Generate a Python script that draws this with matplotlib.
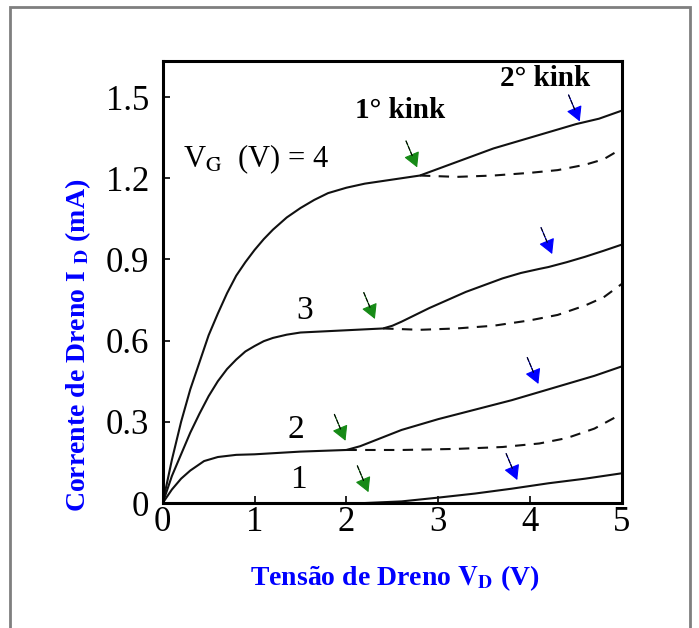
import matplotlib.pyplot as plt
from matplotlib.patches import Rectangle

plt.rcParams['font.family'] = ['Liberation Serif', 'DejaVu Serif']
plt.rcParams['mathtext.fontset'] = 'stix'

# curvas medidas (VD em V, ID em mA)
vd_4 = [0, 0.1, 0.2, 0.3, 0.4, 0.5, 0.6, 0.7, 0.8, 0.9, 1.0, 1.1, 1.2, 1.35, 1.5, 1.65, 1.8, 2.0, 2.2,
        2.4, 2.6, 2.8, 3.2, 3.6, 3.9, 4.2, 4.5, 4.75, 5.0]
id_4 = [0, 0.16, 0.30, 0.42, 0.52, 0.62, 0.70, 0.775, 0.84, 0.89, 0.935, 0.975, 1.01, 1.055, 1.09, 1.12,
        1.145, 1.165, 1.18, 1.19, 1.20, 1.21, 1.26, 1.31, 1.34, 1.37, 1.40, 1.42, 1.45]
vd_3 = [0, 0.1, 0.2, 0.3, 0.4, 0.5, 0.6, 0.7, 0.8, 0.9, 1.0, 1.1, 1.2, 1.35, 1.5, 1.8, 2.1, 2.4, 2.5,
        2.6, 2.75, 2.9, 3.1, 3.3, 3.5, 3.7, 3.9, 4.1, 4.2, 4.4, 4.6, 4.8, 5.0]
id_3 = [0, 0.10, 0.18, 0.26, 0.33, 0.395, 0.45, 0.495, 0.53, 0.56, 0.58, 0.598, 0.61, 0.622, 0.63, 0.635,
        0.64, 0.645, 0.655, 0.67, 0.695, 0.72, 0.75, 0.78, 0.805, 0.83, 0.85, 0.865, 0.872, 0.89, 0.91,
        0.932, 0.955]
vd_2 = [0, 0.1, 0.2, 0.3, 0.45, 0.6, 0.8, 1.0, 1.5, 2.0, 2.15, 2.3, 2.45, 2.6, 2.8, 3.0, 3.4, 3.8, 4.1,
        4.4, 4.7, 5.0]
id_2 = [0, 0.05, 0.09, 0.12, 0.155, 0.17, 0.178, 0.18, 0.19, 0.196, 0.21, 0.23, 0.25, 0.27, 0.29, 0.31,
        0.345, 0.38, 0.41, 0.44, 0.47, 0.505]
vd_1 = [0, 2.2, 2.6, 3.0, 3.4, 3.8, 4.2, 4.6, 5.0]
id_1 = [0, 0, 0.006, 0.02, 0.035, 0.053, 0.073, 0.09, 0.11]

# sem kink (tracejado)
vd_4s = [2.8, 3.2, 3.6, 4.0, 4.3, 4.6, 4.8, 5.0]
id_4s = [1.21, 1.205, 1.21, 1.22, 1.23, 1.25, 1.27, 1.31]
vd_3s = [2.4, 2.8, 3.2, 3.6, 4.0, 4.3, 4.6, 4.8, 5.0]
id_3s = [0.645, 0.64, 0.645, 0.655, 0.675, 0.695, 0.73, 0.76, 0.81]
vd_2s = [2.0, 2.6, 3.2, 3.7, 4.1, 4.4, 4.7, 5.0]
id_2s = [0.196, 0.196, 0.20, 0.207, 0.22, 0.24, 0.275, 0.33]

# pontos de kink (ponta da seta)
kink1_v = [2.77, 2.31, 1.99, 2.24]
kink1_i = [1.24, 0.68, 0.23, 0.04]
kink2_v = [4.54, 4.24, 4.09, 3.86]
kink2_i = [1.41, 0.92, 0.44, 0.085]

fig = plt.figure(figsize=(6.99, 6.28), dpi=100)
fig.patches.append(Rectangle((10 / 699, -0.05), 680 / 699, 1.05 - 7 / 628,
                             transform=fig.transFigure, fill=False,
                             edgecolor='#7f7f7f', lw=2))
ax = fig.add_axes([0.2328, 0.199, 0.657, 0.7038])

for v, i in [(vd_4, id_4), (vd_3, id_3), (vd_2, id_2), (vd_1, id_1)]:
    ax.plot(v, i, color='#111111', lw=1.5)
for v, i in [(vd_4s, id_4s), (vd_3s, id_3s), (vd_2s, id_2s)]:
    ax.plot(v, i, color='#111111', lw=1.5, ls=(0, (5, 4)))


def seta(x, y, cor):
    ax.annotate('', xy=(x, y), xytext=(-8, 19), textcoords='offset points',
                arrowprops=dict(arrowstyle='-|>,head_length=0.45,head_width=0.25',
                                mutation_scale=20, color=cor, lw=0.8,
                                shrinkA=0, shrinkB=0))
    ax.annotate('', xy=(x, y), xytext=(-8, 19), textcoords='offset points',
                arrowprops=dict(arrowstyle='-', color='black', lw=0.8, ls='--',
                                shrinkA=0, shrinkB=8))


for x, y in zip(kink1_v, kink1_i):
    seta(x, y, '#168a16')
for x, y in zip(kink2_v, kink2_i):
    seta(x, y, '#0000ff')

ax.text(0.22, 1.27, r'V$_{\mathrm{G}}$  (V) = 4', fontsize=22, va='center')
ax.text(1.55, 0.71, '3', fontsize=24, ha='center', va='center')
ax.text(1.45, 0.27, '2', fontsize=24, ha='center', va='center')
ax.text(1.48, 0.085, '1', fontsize=24, ha='center', va='center')
ax.text(2.59, 1.45, '1° kink', fontsize=21, fontweight='bold', ha='center', va='center')
ax.text(4.16, 1.57, '2° kink', fontsize=21, fontweight='bold', ha='center', va='center')

ax.set_xlim(0, 5)
ax.set_ylim(0, 1.633)
ax.set_xticks([0, 1, 2, 3, 4, 5])
ax.set_yticks([0, 0.3, 0.6, 0.9, 1.2, 1.5])
ax.set_yticklabels(['0', '0.3', '0.6', '0.9', '1.2', '1.5'])
ax.tick_params(direction='in', length=5, width=1.2, labelsize=25)
ax.tick_params(axis='x', pad=2)
ax.tick_params(axis='y', pad=10)
for s in ax.spines.values():
    s.set_linewidth(2.2)

fig.text(395 / 699, 1 - 578 / 628, r'Tensão de Dreno $\mathbf{V_D}$ (V)',
         color='#0000ff', fontsize=20, fontweight='bold', ha='center', va='center')
fig.text(78 / 699, 1 - 345 / 628, r'Corrente de Dreno I $_{\mathbf{D}}$ (mA)',
         color='#0000ff', fontsize=20, fontweight='bold', ha='center', va='center',
         rotation=90)

fig.savefig('out.png', dpi=100)
